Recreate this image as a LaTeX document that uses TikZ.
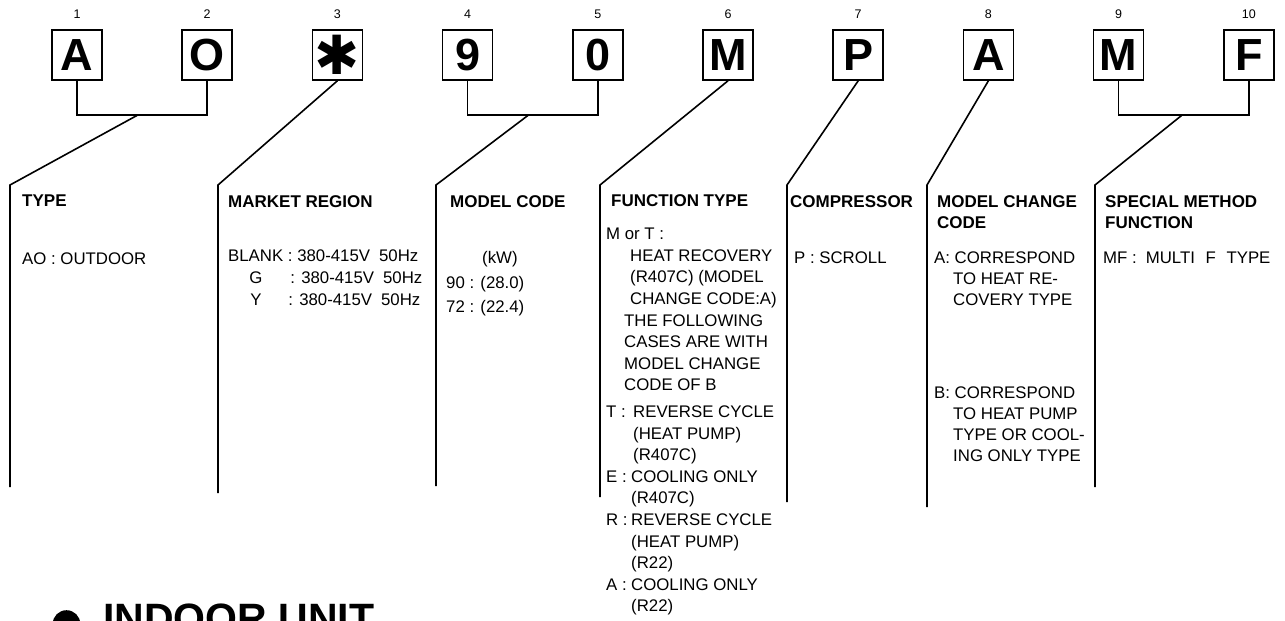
\documentclass[tikz,border=0pt]{standalone}
\usepackage{fontspec}
\setmainfont{Liberation Sans}
\newfontfamily\dingfont{DejaVu Sans}
\usetikzlibrary{positioning,calc}

\begin{document}
\begin{tikzpicture}[
  x=1pt, y=1pt,
  node distance=78.6pt,
  digit/.style={draw, line width=1.6pt, minimum width=50pt, minimum height=50pt, inner sep=0pt, font=\fontsize{45}{45}\selectfont\bfseries},
  num/.style={inner sep=0pt, font=\fontsize{12.5}{14}\selectfont},
  lead/.style={line width=1.6pt},
  head/.style={anchor=north west, inner sep=0pt, align=left, font=\fontsize{17}{21.5}\selectfont\bfseries},
  desc/.style={anchor=north west, inner sep=0pt, align=left, font=\fontsize{16.8}{21.6}\selectfont}
]
\useasboundingbox (0,0) rectangle (1285,-621);
\clip (0,0) rectangle (1285,-621);
\node[digit] (b1) at (77,-55) {A};
\node[digit, right=of b1] (b2) {O};
\node[digit, right=of b2] (b3) {\dingfont\fontsize{54}{54}\selectfont ✱};
\node[digit, right=of b3] (b4) {9};
\node[digit, right=of b4] (b5) {0};
\node[digit, right=of b5] (b6) {M};
\node[digit, right=of b6] (b7) {P};
\node[digit, right=of b7] (b8) {A};
\node[digit, right=of b8] (b9) {M};
\node[digit, right=of b9] (b10) {F};
\node[num, above=10pt of b1] (n1) {1};
\node[num, above=10pt of b2] (n2) {2};
\node[num, above=10pt of b3] (n3) {3};
\node[num, above=10pt of b4] (n4) {4};
\node[num, above=10pt of b5] (n5) {5};
\node[num, above=10pt of b6] (n6) {6};
\node[num, above=10pt of b7] (n7) {7};
\node[num, above=10pt of b8] (n8) {8};
\node[num, above=10pt of b9] (n9) {9};
\node[num, above=10pt of b10] (n10) {10};
\coordinate (j1) at ($(b1.south)!0.47!(b2.south)+(0,-34)$);
\coordinate (j2) at ($(b4.south)!0.47!(b5.south)+(0,-34)$);
\coordinate (j3) at ($(b9.south)!0.49!(b10.south)+(0,-34)$);
\coordinate (k1) at (10,-185);   \coordinate (e1) at (10,-487);
\coordinate (k2) at (218,-185);  \coordinate (e2) at (218,-493);
\coordinate (k3) at (436,-185);  \coordinate (e3) at (436,-486);
\coordinate (k4) at (600,-185);  \coordinate (e4) at (600,-497);
\coordinate (k5) at (787,-185);  \coordinate (e5) at (787,-502);
\coordinate (k6) at (927,-185);  \coordinate (e6) at (927,-507);
\coordinate (k7) at (1095,-185); \coordinate (e7) at (1095,-487);
\draw[lead] (b1.south) |- (j1) -| (b2.south);
\draw[lead] (b4.south) |- (j2) -| (b5.south);
\draw[lead] (b9.south) |- (j3) -| (b10.south);
\draw[lead] (j1) -- (k1) -- (e1);
\draw[lead] (b3.south) -- (k2) -- (e2);
\draw[lead] (j2) -- (k3) -- (e3);
\draw[lead] (b6.south) -- (k4) -- (e4);
\draw[lead] (b7.south) -- (k5) -- (e5);
\draw[lead] (b8.south) -- (k6) -- (e6);
\draw[lead] (j3) -- (k7) -- (e7);
\node[head] (h1) at (22,-195) {TYPE};
\node[head] (h2) at (228,-195) {MARKET REGION};
\node[head] (h3) at (450,-195) {MODEL CODE};
\node[head] (h4) at (611,-194) {FUNCTION TYPE};
\node[head] (h5) at (790,-195) {COMPRESSOR};
\node[head] (h6) at (937,-195) {MODEL CHANGE\\CODE};
\node[head] (h7) at (1105,-195) {SPECIAL METHOD\\FUNCTION};
\node[desc] (d1) at (22,-253) {AO : OUTDOOR};
\node[desc] (d2) at (228,-250) {BLANK : 380-415V\hspace{9pt}50Hz\\
  \makebox[55.5pt]{G}\hspace{2pt} : 380-415V\hspace{9pt}50Hz\\
  \makebox[55.5pt]{Y} : 380-415V\hspace{9pt}50Hz};
\node[desc] (d3) at (446,-251) {\hspace*{36pt}(kW)\\[3.5pt]
  90 : (28.0)\\[2.5pt]
  72 : (22.4)};
\node[desc] (d4) at (606,-228) {M or T :\\
  \hspace*{24pt}HEAT RECOVERY\\
  \hspace*{24pt}(R407C) (MODEL\\
  \hspace*{24pt}CHANGE CODE:A)\\
  \hspace*{18pt}THE FOLLOWING\\
  \hspace*{18pt}CASES ARE WITH\\
  \hspace*{18pt}MODEL CHANGE\\
  \hspace*{18pt}CODE OF B\\[5pt]
  \makebox[27pt][l]{T :}REVERSE CYCLE\\
  \hspace*{27pt}(HEAT PUMP)\\
  \hspace*{27pt}(R407C)\\
  \makebox[25pt][l]{E :}COOLING ONLY\\
  \hspace*{25pt}(R407C)\\
  \makebox[25pt][l]{R :}REVERSE CYCLE\\
  \hspace*{25pt}(HEAT PUMP)\\
  \hspace*{25pt}(R22)\\
  \makebox[25pt][l]{A :}COOLING ONLY\\
  \hspace*{25pt}(R22)};
\node[desc] (d5) at (794,-252) {P : SCROLL};
\node[desc, font=\fontsize{16.8}{20.8}\selectfont] (d6a) at (934,-252) {A: CORRESPOND\\
  \hspace*{19pt}TO HEAT RE-\\
  \hspace*{19pt}COVERY TYPE};
\node[desc, font=\fontsize{16.8}{21}\selectfont] (d6b) at (934,-387) {B: CORRESPOND\\
  \hspace*{19pt}TO HEAT PUMP\\
  \hspace*{19pt}TYPE OR COOL-\\
  \hspace*{19pt}ING ONLY TYPE};
\node[desc] (d7) at (1103,-252) {MF :\hspace{9pt}MULTI\hspace{6pt} F\hspace{6pt} TYPE};
\node[circle, fill, minimum size=27.6pt, inner sep=0pt] (dot) at (66.5,-624) {};
\node[anchor=north west, inner sep=0pt, font=\fontsize{41}{41}\selectfont\bfseries] (indoor) at (103,-604) {INDOOR UNIT};
\end{tikzpicture}
\end{document}
